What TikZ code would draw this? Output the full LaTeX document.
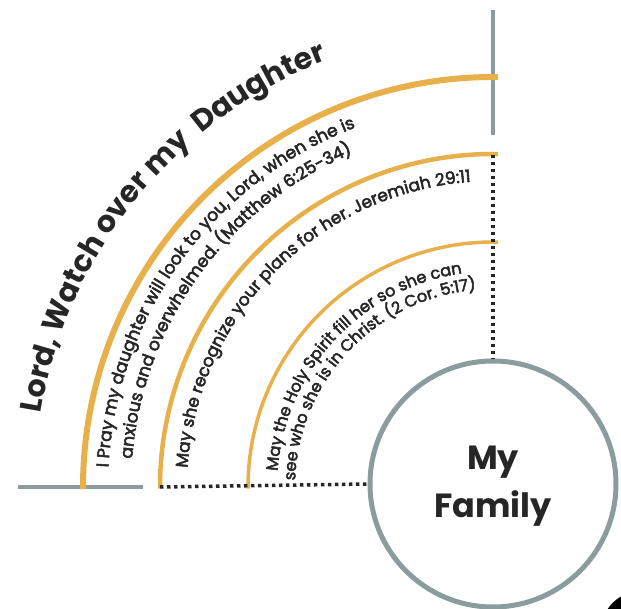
\documentclass[tikz,border=0pt]{standalone}
\usepackage{fontspec}
\setmainfont{Poppins}
\newfontfamily\arcfont[FakeBold=3]{Poppins}
\usetikzlibrary{decorations.text}
\definecolor{gold}{HTML}{E8B04B}
\definecolor{slate}{HTML}{8A9C9C}
\definecolor{ink}{HTML}{262626}
\tikzset{
  goldarc/.style={draw=gold, line cap=butt},
  grayline/.style={draw=slate, line width=4pt},
  dotline/.style={draw=ink, line width=3.5pt, dash pattern=on 3.5pt off 3.5pt},
  famcircle/.style={circle, draw=slate, line width=5pt, minimum size=246pt, inner sep=0pt, fill=white},
  famtext/.style={font=\bfseries\fontsize{33.5}{38}\selectfont, text=ink, anchor=base, inner sep=0pt},
}
\newcommand{\arctext}[5]{% radius, center angle, size, text, half-span
  \path[decorate, decoration={text along path, text align=center,
     text={|\arcfont\fontsize{#3}{#3}\selectfont\color{ink}|#4}}]
     (#2+#5:#1) arc[start angle=#2+#5, end angle=#2-#5, radius=#1];}
\begin{document}
\begin{tikzpicture}[x=1pt,y=1pt]
\useasboundingbox (-493,-122) rectangle (128,487);
\clip (-493,-122) rectangle (128,487);
% gray rules
\coordinate (gvt) at (0,477);
\coordinate (gvb) at (0,352);
\coordinate (ghl) at (-475,0);
\coordinate (ghr) at (-350,0);
\draw[grayline] (gvt) -- (gvb);
\draw[grayline] (ghl) -- (ghr);
% gold arcs
\draw[goldarc, line width=6pt] (180.3:410) arc[start angle=180.3, end angle=89.3, radius=410];
\draw[goldarc, line width=4.5pt] (180.3:333) arc[start angle=180.3, end angle=89.1, radius=333];
\draw[goldarc, line width=3.5pt] (180.4:245) arc[start angle=180.4, end angle=88.8, radius=245];
% circle
\node[famcircle] (fam) at (0,3) {};
\node[famtext] (my) at (0,17) {My};
\node[famtext] (family) at (0,-31) {Family};
% dotted connectors
\coordinate (a2top) at (0,332);
\coordinate (a2bot) at (-333,0);
\draw[dotline] (a2top) -- (fam.north);
\draw[dotline] (a2bot) -- (fam.west);
% corner blob
\fill[black] (147,-143) circle[radius=38.5];
% title
\path[decorate, decoration={text along path, text align=center,
   text={|\bfseries\fontsize{30}{30}\selectfont\color{ink}|Lord, Watch over my {\ }Daughter}}]
   (221:458) arc[start angle=221, end angle=61, radius=458];
% arc texts
\arctext{385}{144}{17.2}{I Pray my daughter will look to you, Lord, when she is}{75}
\arctext{362}{144.2}{17.2}{anxious and overwhelmed. (Matthew 6:25-34)}{75}
\arctext{306}{135.3}{17}{May she recognize your plans for her. Jeremiah 29:11}{80}
\arctext{216}{137}{16.2}{May the Holy Spirit fill her so she can}{80}
\arctext{198}{136.5}{16.2}{see who she is in Christ. (2 Cor. 5:17)}{80}
\end{tikzpicture}
\end{document}
